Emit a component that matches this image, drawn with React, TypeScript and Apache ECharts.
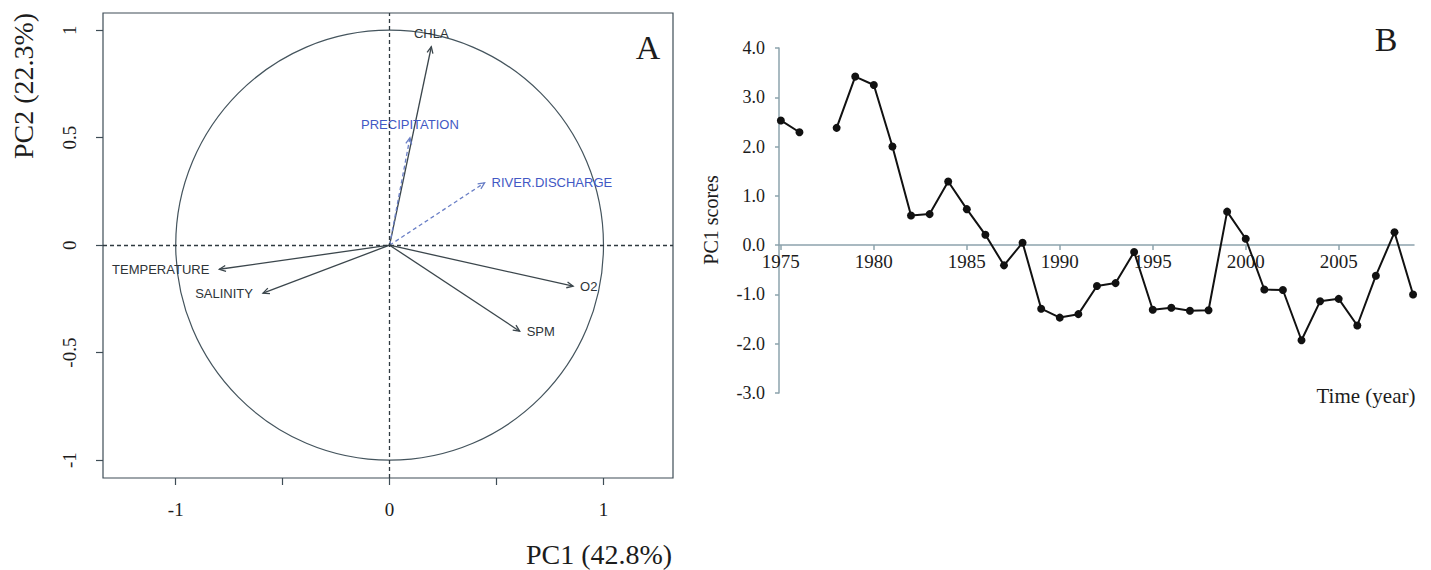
import React, { useEffect, useRef } from "react";
import * as echarts from "echarts";

// ---------- Panel A: PCA correlation circle ----------
const pcaVars = ["CHLA", "PRECIPITATION", "RIVER.DISCHARGE", "TEMPERATURE", "SALINITY", "O2", "SPM"];
const pc1Load = [0.195, 0.095, 0.444, -0.796, -0.592, 0.858, 0.608];
const pc2Load = [0.923, 0.5, 0.29, -0.112, -0.223, -0.191, -0.4];
const isSupplementary = [false, true, true, false, false, false, false];
const labelSide = ["top", "top", "right", "left", "left", "right", "right"];
const pcaTicks = [-1, -0.5, 0, 0.5, 1];
const pcaXLabels = [-1, 0, 1];
const pcaYLabels = [-1, -0.5, 0, 0.5, 1];

// ---------- Panel B: PC1 scores time series ----------
const years = [
  1975, 1976, 1977, 1978, 1979, 1980, 1981, 1982, 1983, 1984, 1985, 1986,
  1987, 1988, 1989, 1990, 1991, 1992, 1993, 1994, 1995, 1996, 1997, 1998,
  1999, 2000, 2001, 2002, 2003, 2004, 2005, 2006, 2007, 2008, 2009,
];
const pc1Scores: (number | null)[] = [
  2.53, 2.29, null, 2.38, 3.42, 3.25, 2.0, 0.6, 0.63, 1.29, 0.73, 0.21,
  -0.41, 0.05, -1.29, -1.47, -1.4, -0.83, -0.77, -0.14, -1.31, -1.27, -1.33, -1.32,
  0.68, 0.13, -0.9, -0.91, -1.93, -1.14, -1.09, -1.63, -0.62, 0.26, -1.0,
];
const yearTicks = [1975, 1980, 1985, 1990, 1995, 2000, 2005];

const SERIF = "'Liberation Serif', 'Times New Roman', serif";
const SANS = "'Liberation Sans', Arial, sans-serif";
const BOX = "#3e4d56";
const AXIS_B = "#8da3ad";
const TXT = "#1c1c1c";
const BLUE_TXT = "#4258c4";
const BLUE_LINE = "#6a7fc6";

export default function App() {
  const ref = useRef<HTMLDivElement>(null);

  useEffect(() => {
    if (!ref.current) return;
    const chart = echarts.init(ref.current, null, { renderer: "svg" });

    const arrowData = pcaVars.map((_, i) => [pc1Load[i], pc2Load[i]]);
    const xMinB = 1974.9;
    const xMaxB = 2009.05;

    const option: any = {
      animation: false,
      backgroundColor: "#ffffff",
      grid: [
        {
          left: 103, top: 13, width: 570, height: 465,
          show: true, borderColor: BOX, borderWidth: 1.2, backgroundColor: "transparent",
        },
        { left: 779, top: 48, width: 635, height: 345 },
        // upper half of panel B: its bottom edge is the zero line, carrying the year axis
        { left: 779, top: 48, width: 635, height: 197 },
      ],
      xAxis: [
        {
          gridIndex: 0, type: "value", min: -1.34, max: 1.325,
          axisLine: { show: false, onZero: false },
          axisTick: { show: true, length: 7, customValues: pcaTicks, lineStyle: { color: BOX, width: 1.2 } },
          axisLabel: {
            show: true, customValues: pcaXLabels, margin: 22,
            fontFamily: SERIF, fontSize: 19, color: TXT,
            formatter: (v: number) => String(v),
          },
          splitLine: { show: false },
        },
        {
          gridIndex: 1, type: "value", min: xMinB, max: xMaxB,
          show: false,
          axisLine: { show: false, onZero: false },
          axisTick: { show: false },
          axisLabel: { show: false },
          splitLine: { show: false },
        },
        {
          gridIndex: 2, type: "value", min: xMinB, max: xMaxB, position: "bottom",
          axisLine: { show: true, onZero: false, lineStyle: { color: AXIS_B, width: 1.5 } },
          axisTick: { show: true, length: 5, customValues: yearTicks, lineStyle: { color: AXIS_B, width: 1.5 } },
          axisLabel: {
            show: true, customValues: yearTicks, margin: 7,
            fontFamily: SERIF, fontSize: 19, color: TXT,
            formatter: (v: number) => String(v),
          },
          splitLine: { show: false },
        },
      ],
      yAxis: [
        {
          gridIndex: 0, type: "value", min: -1.083, max: 1.08,
          axisLine: { show: false, onZero: false },
          axisTick: { show: true, length: 7, customValues: pcaTicks, lineStyle: { color: BOX, width: 1.2 } },
          axisLabel: {
            show: true, customValues: pcaYLabels, rotate: 90, margin: 24,
            fontFamily: SERIF, fontSize: 19, color: TXT,
            formatter: (v: number) => String(v),
          },
          splitLine: { show: false },
        },
        {
          gridIndex: 1, type: "value", min: -3, max: 4, interval: 1,
          axisLine: { show: true, onZero: false, lineStyle: { color: AXIS_B, width: 1.5 } },
          axisTick: { show: true, length: 4, lineStyle: { color: AXIS_B, width: 1.5 } },
          axisLabel: {
            show: true, margin: 14,
            fontFamily: SERIF, fontSize: 18, color: TXT,
            formatter: (v: number) => v.toFixed(1),
          },
          splitLine: { show: false },
        },
        {
          gridIndex: 2, type: "value", min: 0, max: 1, show: false,
          axisLine: { show: false, onZero: false },
          splitLine: { show: false },
        },
      ],
      series: [
        // unit circle
        {
          type: "custom",
          xAxisIndex: 0, yAxisIndex: 0,
          silent: true, clip: false,
          data: [[0, 0, 1]],
          renderItem: (params: any, api: any) => {
            const c = api.coord([api.value(0), api.value(1)]);
            const s = api.size([api.value(2), api.value(2)]);
            return {
              type: "ellipse",
              shape: { cx: c[0], cy: c[1], rx: s[0], ry: s[1] },
              style: { fill: "none", stroke: "#44545d", lineWidth: 1.2 },
            };
          },
        },
        // zero dashed lines
        {
          type: "line",
          xAxisIndex: 0, yAxisIndex: 0,
          data: [[0, 0]],
          symbol: "none",
          silent: true,
          lineStyle: { opacity: 0 },
          markLine: {
            silent: true,
            symbol: ["none", "none"],
            label: { show: false },
            lineStyle: { type: [4, 3], color: "#2f3a40", width: 1.3 },
            data: [{ xAxis: 0 }, { yAxis: 0 }],
          },
        },
        // loading arrows
        {
          type: "custom",
          xAxisIndex: 0, yAxisIndex: 0,
          silent: true, clip: false,
          data: arrowData,
          renderItem: (params: any, api: any) => {
            const i = params.dataIndex;
            const p0 = api.coord([0, 0]);
            const p1 = api.coord([api.value(0), api.value(1)]);
            const ang = Math.atan2(p1[1] - p0[1], p1[0] - p0[0]);
            const hl = 7;
            const ha = (25 * Math.PI) / 180;
            const h1 = [p1[0] - hl * Math.cos(ang - ha), p1[1] - hl * Math.sin(ang - ha)];
            const h2 = [p1[0] - hl * Math.cos(ang + ha), p1[1] - hl * Math.sin(ang + ha)];
            const supp = isSupplementary[i];
            const stroke = supp ? BLUE_LINE : "#3b464c";
            const dash = supp ? [4, 3] : null;
            const side = labelSide[i];
            let tx = p1[0], ty = p1[1], align = "center";
            if (side === "top") { ty = p1[1] - 13; align = "center"; }
            else if (side === "left") { tx = p1[0] - 10; align = "right"; }
            else { tx = p1[0] + 7; align = "left"; }
            return {
              type: "group",
              children: [
                {
                  type: "line",
                  shape: { x1: p0[0], y1: p0[1], x2: p1[0], y2: p1[1] },
                  style: { stroke, lineWidth: 1.3, lineDash: dash },
                },
                {
                  type: "polyline",
                  shape: { points: [h1, p1, h2] },
                  style: { stroke, lineWidth: 1.3, fill: "none" },
                },
                {
                  type: "text",
                  x: tx, y: ty,
                  style: {
                    text: pcaVars[i],
                    align, verticalAlign: "middle",
                    fill: supp ? BLUE_TXT : "#2e3438",
                    fontFamily: SANS, fontSize: 13,
                  },
                },
              ],
            };
          },
        },
        // PC1 scores
        {
          type: "line",
          xAxisIndex: 1, yAxisIndex: 1,
          data: years.map((y, i) => [y, pc1Scores[i] === null ? "-" : pc1Scores[i]]),
          connectNulls: false,
          symbol: "circle",
          symbolSize: 8,
          showAllSymbol: true,
          itemStyle: { color: "#111111" },
          lineStyle: { color: "#111111", width: 2 },
          clip: false,
          z: 5,
        },
      ],
      graphic: [
        {
          type: "text", x: 648, y: 47,
          style: { text: "A", fontFamily: SERIF, fontSize: 34, fill: TXT, align: "center", verticalAlign: "middle" },
        },
        {
          type: "text", x: 1386, y: 39,
          style: { text: "B", fontFamily: SERIF, fontSize: 34, fill: TXT, align: "center", verticalAlign: "middle" },
        },
        {
          type: "text", x: 23, y: 86, rotation: Math.PI / 2,
          style: { text: "PC2 (22.3%)", fontFamily: SERIF, fontSize: 28, fill: TXT, align: "center", verticalAlign: "middle" },
        },
        {
          type: "text", x: 599, y: 554,
          style: { text: "PC1 (42.8%)", fontFamily: SERIF, fontSize: 28, fill: TXT, align: "center", verticalAlign: "middle" },
        },
        {
          type: "text", x: 711, y: 220, rotation: Math.PI / 2,
          style: { text: "PC1 scores", fontFamily: SERIF, fontSize: 20, fill: TXT, align: "center", verticalAlign: "middle" },
        },
        {
          type: "text", x: 1366, y: 396,
          style: { text: "Time (year)", fontFamily: SERIF, fontSize: 21, fill: TXT, align: "center", verticalAlign: "middle" },
        },
      ],
    };

    chart.setOption(option);
    return () => chart.dispose();
  }, []);

  return (
    <div
      ref={ref}
      style={{ position: "fixed", left: 0, top: 0, width: 1431, height: 570, background: "#fff" }}
    />
  );
}
